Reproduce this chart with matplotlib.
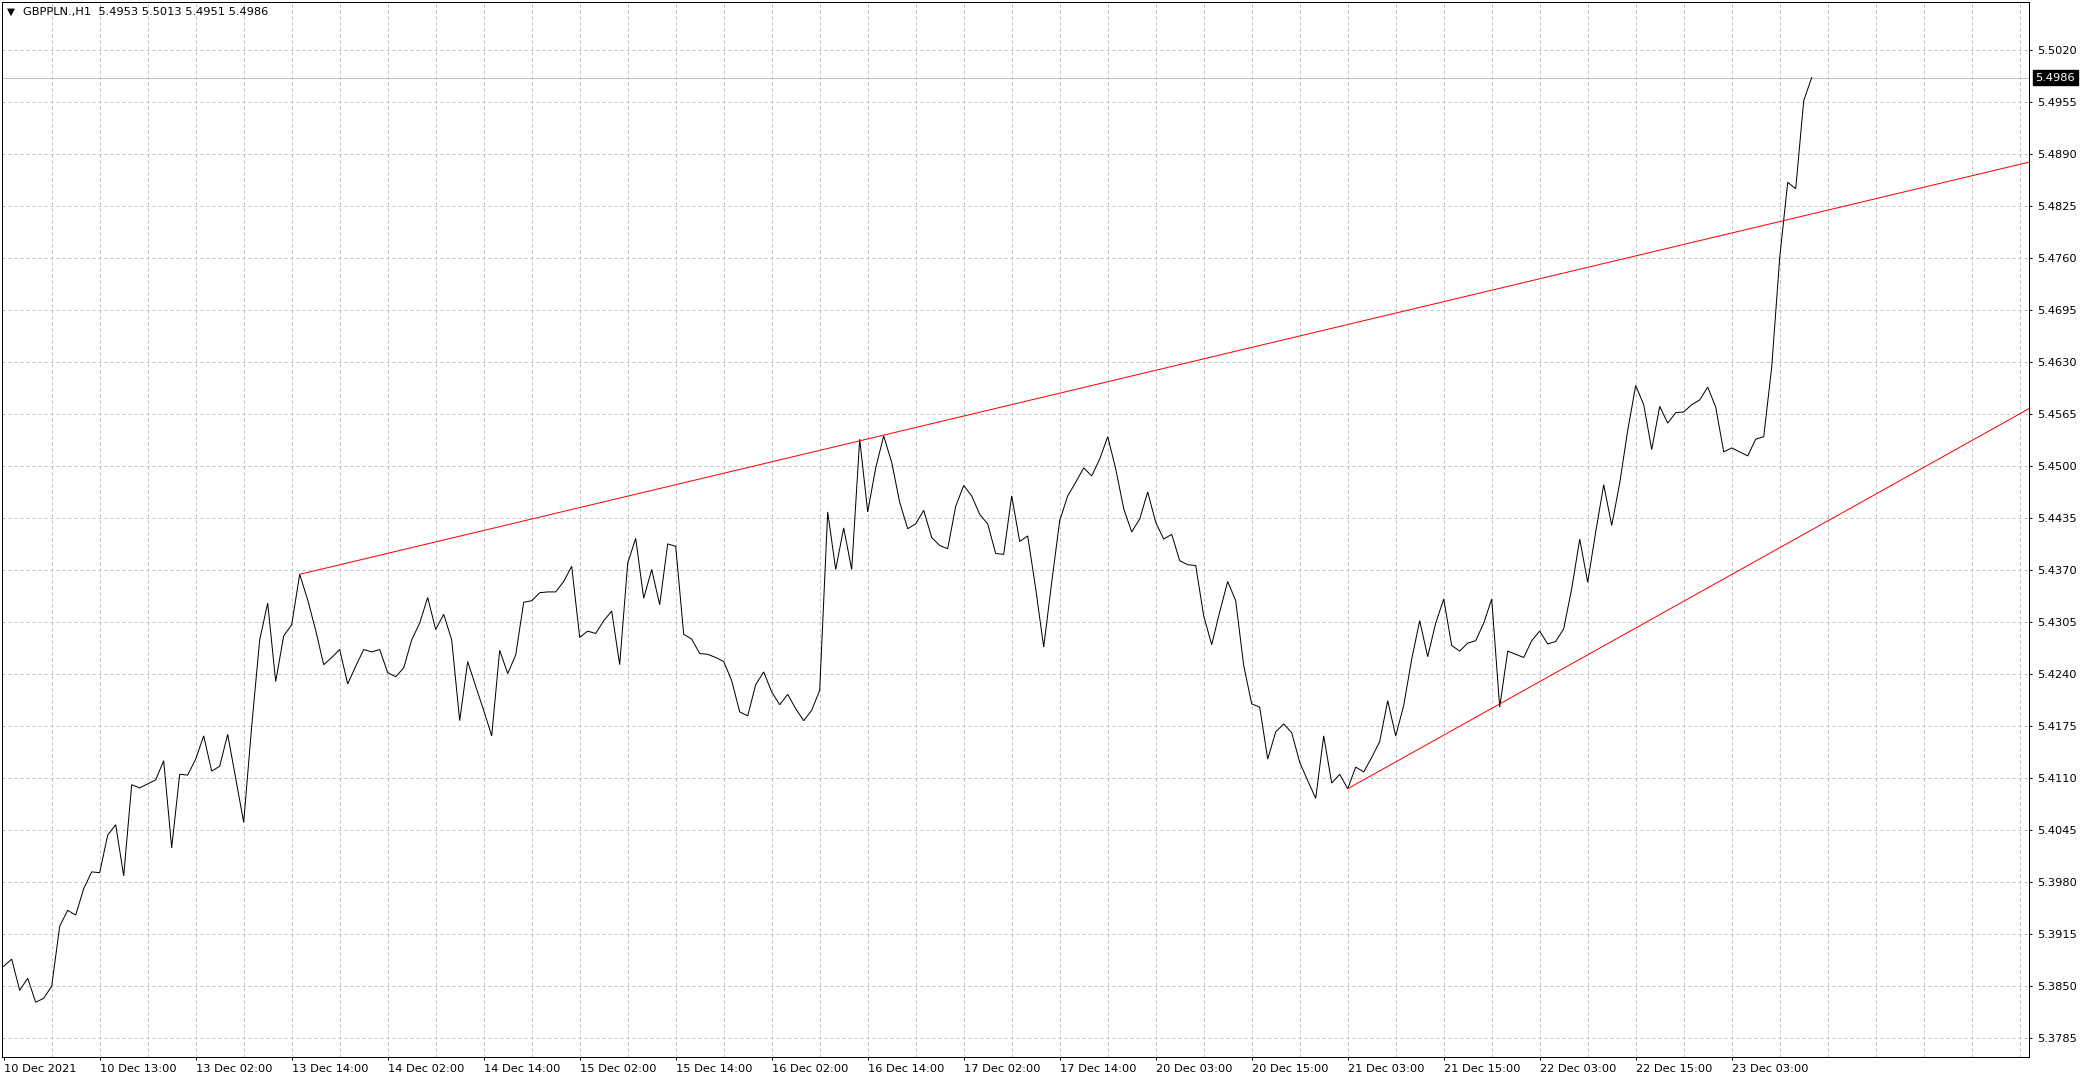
import matplotlib
matplotlib.use("Agg")
import matplotlib.pyplot as plt
import numpy as np

# ---- data ----
symbol_header = "GBPPLN.,H1  5.4953 5.5013 5.4951 5.4986"
last_price = 5.4986

close = [
    5.3875, 5.3884, 5.3845, 5.3860, 5.3830, 5.3835, 5.3850, 5.3925, 5.3945, 5.3939,
    5.3972, 5.3993, 5.3992, 5.4039, 5.4052, 5.3988, 5.4102, 5.4098, 5.4103, 5.4108,
    5.4132, 5.4023, 5.4115, 5.4114, 5.4134, 5.4163, 5.4119, 5.4125, 5.4165, 5.4110,
    5.4055, 5.4175, 5.4283, 5.4329, 5.4231, 5.4288, 5.4302, 5.4365, 5.4333, 5.4295,
    5.4252, 5.4261, 5.4271, 5.4228, 5.4250, 5.4271, 5.4268, 5.4271, 5.4242, 5.4237,
    5.4248, 5.4283, 5.4304, 5.4336, 5.4296, 5.4315, 5.4283, 5.4182, 5.4256, 5.4225,
    5.4195, 5.4163, 5.4270, 5.4241, 5.4264, 5.4330, 5.4332, 5.4342, 5.4343, 5.4343,
    5.4356, 5.4375, 5.4286, 5.4294, 5.4291, 5.4307, 5.4319, 5.4252, 5.4379, 5.4410,
    5.4335, 5.4371, 5.4327, 5.4403, 5.4400, 5.4290, 5.4284, 5.4266, 5.4265, 5.4261,
    5.4256, 5.4232, 5.4193, 5.4188, 5.4227, 5.4243, 5.4218, 5.4202, 5.4215, 5.4197,
    5.4182, 5.4195, 5.4220, 5.4443, 5.4371, 5.4423, 5.4371, 5.4534, 5.4443, 5.4498,
    5.4538, 5.4505, 5.4455, 5.4422, 5.4428, 5.4445, 5.4411, 5.4401, 5.4397, 5.4450,
    5.4476, 5.4463, 5.4440, 5.4428, 5.4391, 5.4390, 5.4463, 5.4406, 5.4413, 5.4347,
    5.4274, 5.4355, 5.4432, 5.4463, 5.4480, 5.4498, 5.4488, 5.4509, 5.4537, 5.4497,
    5.4447, 5.4418, 5.4434, 5.4468, 5.4430, 5.4409, 5.4415, 5.4382, 5.4377, 5.4376,
    5.4313, 5.4277, 5.4318, 5.4356, 5.4332, 5.4251, 5.4203, 5.4199, 5.4134, 5.4168,
    5.4178, 5.4167, 5.4130, 5.4107, 5.4085, 5.4163, 5.4104, 5.4115, 5.4097, 5.4124,
    5.4118, 5.4136, 5.4156, 5.4207, 5.4163, 5.4201, 5.4259, 5.4307, 5.4262, 5.4304,
    5.4334, 5.4276, 5.4269, 5.4279, 5.4282, 5.4304, 5.4334, 5.4199, 5.4269, 5.4265,
    5.4261, 5.4282, 5.4294, 5.4278, 5.4281, 5.4297, 5.4347, 5.4409, 5.4355, 5.4418,
    5.4477, 5.4426, 5.4479, 5.4545, 5.4601, 5.4577, 5.4521, 5.4575, 5.4554, 5.4567,
    5.4568, 5.4577, 5.4583, 5.4599, 5.4574, 5.4518, 5.4523, 5.4518, 5.4513, 5.4534,
    5.4537, 5.4624, 5.4761, 5.4855, 5.4847, 5.4957, 5.4986,
]

x_labels = ["10 Dec 2021", "10 Dec 13:00", "13 Dec 02:00", "13 Dec 14:00",
            "14 Dec 02:00", "14 Dec 14:00", "15 Dec 02:00", "15 Dec 14:00",
            "16 Dec 02:00", "16 Dec 14:00", "17 Dec 02:00", "17 Dec 14:00",
            "20 Dec 03:00", "20 Dec 15:00", "21 Dec 03:00", "21 Dec 15:00",
            "22 Dec 03:00", "22 Dec 15:00", "23 Dec 03:00"]
label_every = 12
grid_every = 6

y_ticks = [5.3785, 5.3850, 5.3915, 5.3980, 5.4045, 5.4110, 5.4175, 5.4240,
           5.4305, 5.4370, 5.4435, 5.4500, 5.4565, 5.4630, 5.4695, 5.4760,
           5.4825, 5.4890, 5.4955, 5.5020]

# trend lines: two anchor points (bar, price), extended to the right edge
upper_anchor_bars = [37, 110]
upper_anchor_prices = [5.4365, 5.4539]
lower_anchor_bars = [168, 187]
lower_anchor_prices = [5.4097, 5.4203]

# ---- figure ----
W, H = 2086, 1082
dpi = 100
fig = plt.figure(figsize=(W / dpi, H / dpi), dpi=dpi, facecolor="white")
px_l, px_r, px_t, px_b = 2.0, 2029.0, 1.7, 1057.0
ax = fig.add_axes([px_l / W, 1 - px_b / H, (px_r - px_l) / W, (px_b - px_t) / H])
ax.set_facecolor("white")

n = len(close)
bars = np.arange(n)
x_left, x_right = -0.21, 253.16
ax.set_xlim(x_left, x_right)
ax.set_ylim(5.37616, 5.50808)

lw = 0.72
grid_color = "#c0c0c0"

# grid
ax.set_yticks(y_ticks)
ax.set_yticklabels([f"{v:.4f}" for v in y_ticks])
ax.set_xticks(np.arange(len(x_labels)) * label_every)
ax.set_xticklabels(x_labels, ha="left")
ax.set_xticks(np.arange(grid_every, x_right, grid_every), minor=True)
ax.xaxis.remove_overlapping_locs = False
ax.grid(False)
ax.grid(True, which="minor", axis="x", color=grid_color, linestyle=(0, (3, 3)), linewidth=lw)
ax.grid(True, which="major", axis="y", color=grid_color, linestyle=(0, (3, 3)), linewidth=lw)
ax.set_axisbelow(True)

# last-price line
ax.axhline(last_price, color="#c0c0c0", linewidth=lw, zorder=1)

# price line
ax.plot(bars, close, color="black", linewidth=lw, zorder=3, solid_joinstyle="miter")

# trend lines (rays to the right)
def ray(bx, py):
    slope = (py[1] - py[0]) / (bx[1] - bx[0])
    xs = [bx[0], x_right]
    ys = [py[0], py[0] + slope * (x_right - bx[0])]
    ax.plot(xs, ys, color="red", linewidth=lw, zorder=4, clip_on=True)

ray(upper_anchor_bars, upper_anchor_prices)
ray(lower_anchor_bars, lower_anchor_prices)

# axes styling
for s in ax.spines.values():
    s.set_color("black")
    s.set_linewidth(lw)
ax.yaxis.tick_right()
ax.tick_params(axis="y", which="major", direction="out", length=2.4, width=lw,
               pad=3.2, labelsize=8.2, colors="black")
ax.tick_params(axis="x", which="major", direction="out", length=2.4, width=lw,
               pad=2.5, labelsize=8.2, colors="black")
ax.tick_params(axis="x", which="minor", length=0)

# header
ax.text(4.5 / (px_r - px_l), 1 - 10.5 / (px_b - px_t), "\u25bc", transform=ax.transAxes,
        fontsize=7.5, va="center", ha="left", color="black")
ax.text(21 / (px_r - px_l), 1 - 10.5 / (px_b - px_t), symbol_header, transform=ax.transAxes,
        fontsize=8.2, va="center", ha="left", color="black")

# price tag
ax.text(1 + 6.5 / (px_r - px_l), last_price, f"{last_price:.4f}",
        transform=ax.get_yaxis_transform(), fontsize=8.2, va="center", ha="left",
        color="white", clip_on=False,
        bbox=dict(boxstyle="square,pad=0.22", fc="black", ec="black"))

fig.savefig("out.png", dpi=dpi, facecolor="white")
